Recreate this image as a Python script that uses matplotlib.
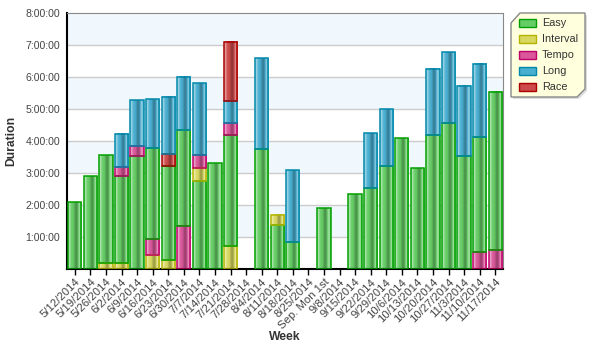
import numpy as np
import matplotlib
matplotlib.use('Agg')
import matplotlib.pyplot as plt
from matplotlib.colors import to_rgb
from matplotlib.patches import Polygon, Rectangle

plt.rcParams['font.family'] = ['Liberation Sans', 'DejaVu Sans']

# Semaines (axe x)
weeks = ['5/12/2014', '5/19/2014', '5/26/2014', '6/2/2014', '6/9/2014', '6/16/2014',
         '6/23/2014', '6/30/2014', '7/7/2014', '7/14/2014', '7/21/2014', '7/28/2014',
         '8/4/2014', '8/11/2014', '8/18/2014', '8/25/2014', 'Sep. Mon 1st', '9/8/2014',
         '9/15/2014', '9/22/2014', '9/29/2014', '10/6/2014', '10/13/2014', '10/20/2014',
         '10/27/2014', '11/3/2014', '11/10/2014', '11/17/2014']

# Durées en minutes par type de sortie
easy = [125, 173, 202, 164, 211, 171, 176, 180, 164, 199, 208, 0,
        225, 81, 50, 0, 113, 0, 140, 152, 193, 245, 188, 251,
        274, 211, 215, 298]
interval = [0, 0, 11, 10, 0, 26, 17, 0, 25, 0, 43, 0,
            0, 20, 0, 0, 0, 0, 0, 0, 0, 0, 0, 0,
            0, 0, 0, 0]
tempo = [0, 0, 0, 16, 20, 30, 0, 80, 25, 0, 22, 0,
         0, 0, 0, 0, 0, 0, 0, 0, 0, 0, 0, 0,
         0, 0, 32, 34]
long_run = [0, 0, 0, 62, 85, 92, 108, 100, 134, 0, 41, 0,
            170, 0, 135, 0, 0, 0, 0, 103, 107, 0, 0, 124,
            133, 132, 138, 0]
race = [0, 0, 0, 0, 0, 0, 22, 0, 0, 0, 111, 0,
        0, 0, 0, 0, 0, 0, 0, 0, 0, 0, 0, 0,
        0, 0, 0, 0]

# Ordre d'empilement de chaque semaine (E=Easy, I=Interval, T=Tempo, L=Long, R=Race)
stack_order = ['E', 'E', 'IE', 'IETL', 'ETL', 'ITEL', 'IERL', 'TEL', 'EITL', 'E', 'IETLR', '',
               'EL', 'EI', 'EL', '', 'E', '', 'E', 'EL', 'EL', 'E', 'E', 'EL',
               'EL', 'EL', 'TEL', 'TE']

series = {'E': ('Easy', easy), 'I': ('Interval', interval), 'T': ('Tempo', tempo),
          'L': ('Long', long_run), 'R': ('Race', race)}
couleurs = {'E': ('#66cc66', '#00a000'), 'I': ('#d8d860', '#b4b400'),
            'T': ('#d9579a', '#c0006a'), 'L': ('#4aaed0', '#0088aa'),
            'R': ('#cc4a4a', '#aa0000')}

# profil de luminosité à travers une barre (gauche -> droite)
profil = np.array([1.3, 1.25, 1.15, 1.05, 1.0, 1.0, 0.92, 0.8, 0.72, 0.75, 0.88,
                   1.08, 1.2, 1.15, 1.0])


def degrade(base):
    rgb = np.array(to_rgb(base))
    cols = []
    for f in profil:
        if f >= 1:
            c = rgb + (1 - rgb) * (f - 1) * 1.8
        else:
            c = rgb * f
        cols.append(np.clip(c, 0, 1))
    return np.array(cols)[None, :, :]


fig = plt.figure(figsize=(5.95, 3.55), dpi=100)
ax = fig.add_axes([67 / 595, 1 - 268.6 / 355, 436 / 595, 255.6 / 355])

# bandes de fond
for h in range(1, 8, 2):
    ax.axhspan(h, h + 1, color='#f0f8fe', zorder=0, lw=0)
for h in range(1, 8):
    ax.axhline(h, color='#cccccc', lw=1, zorder=0.5)

largeur = 0.86
for i, ordre in enumerate(stack_order):
    bas = 0.0
    for k in ordre:
        v = series[k][1][i] / 60.0
        if v <= 0:
            continue
        fond, bord = couleurs[k]
        x0 = i - largeur / 2
        ax.imshow(degrade(fond), extent=(x0, x0 + largeur, bas, bas + v),
                  aspect='auto', zorder=2, interpolation='bilinear')
        ax.add_patch(Rectangle((x0, bas), largeur, v, fill=False, ec=bord, lw=1.1, zorder=3))
        bas += v

ax.set_xlim(-0.5, len(weeks) - 0.5)
ax.set_ylim(0, 8)
ax.set_yticks(range(1, 9))
ax.set_yticklabels(['%d:00:00' % h for h in range(1, 9)])
ax.set_xticks(range(len(weeks)))
ax.set_xticklabels(weeks, rotation=45, ha='right', rotation_mode='anchor')
ax.tick_params(axis='x', length=4, width=1, labelsize=8.2, labelcolor='#444444', pad=2)
ax.tick_params(axis='y', length=0, labelsize=7.6, labelcolor='#444444', pad=5)

for s in ['left', 'bottom']:
    ax.spines[s].set_color('black')
    ax.spines[s].set_linewidth(1.5)
for s in ['top', 'right']:
    ax.spines[s].set_color('#888888')
    ax.spines[s].set_linewidth(0.8)

fig.text(11 / 595, 1 - 141 / 355, 'Duration', fontsize=8.7, fontweight='bold',
         color='#333333', ha='center', va='center', rotation=90)
fig.text(285 / 595, 1 - 337 / 355, 'Week', fontsize=8.7, fontweight='bold',
         color='#333333', ha='center', va='center')

# légende en forme de boîte biseautée
W, H = 595.0, 355.0
pts = [(511, 23), (520, 13), (585, 13), (585, 89), (577, 97), (511, 97)]
ombre = Polygon([((x + 2) / W, 1 - (y + 2) / H) for x, y in pts], closed=True,
                transform=fig.transFigure, fc='#dddddd', ec='none', zorder=5)
boite = Polygon([(x / W, 1 - y / H) for x, y in pts], closed=True,
                transform=fig.transFigure, fc='#ffffdd', ec='#888888', lw=1, zorder=6)
fig.patches.extend([ombre, boite])
for j, k in enumerate('EITLR'):
    yc = 22.7 + 16 * j
    fond, bord = couleurs[k]
    fig.patches.append(Rectangle((519 / W, 1 - (yc + 4) / H), 17 / W, 8 / H,
                                 transform=fig.transFigure, fc=fond, ec=bord, lw=1, zorder=7))
    fig.text(542 / W, 1 - yc / H, series[k][0], fontsize=7.8, color='#333333',
             ha='left', va='center', zorder=8)

fig.savefig('out.png', dpi=100)
